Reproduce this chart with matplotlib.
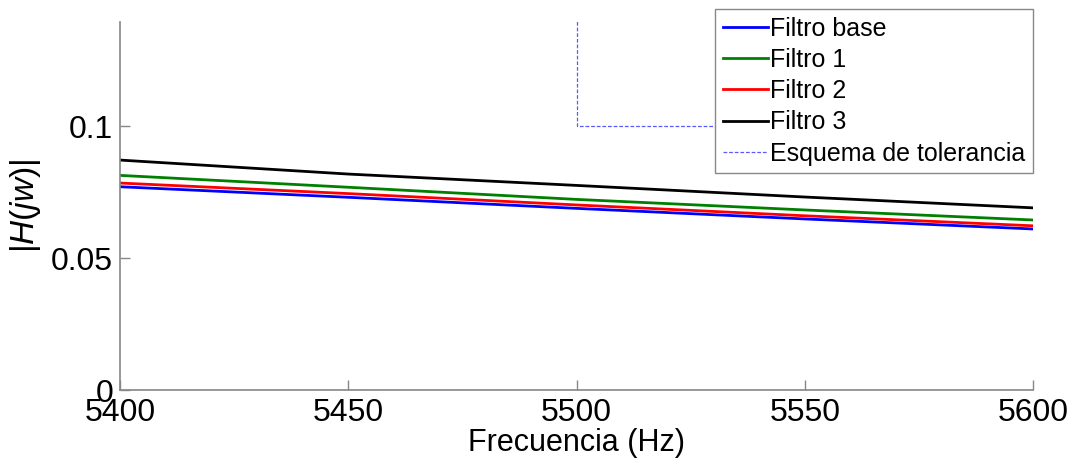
import matplotlib
matplotlib.use("Agg")
import matplotlib.pyplot as plt
import numpy as np

plt.rcParams['font.family'] = ['Liberation Sans', 'DejaVu Sans']
plt.rcParams['mathtext.fontset'] = 'custom'
plt.rcParams['mathtext.it'] = 'Liberation Sans:italic'
plt.rcParams['mathtext.rm'] = 'Liberation Sans'

freq = [5400, 5450, 5500, 5550, 5600]
filtro_base = [0.0770, 0.0730, 0.0688, 0.0648, 0.0610]
filtro_1 = [0.0813, 0.0768, 0.0722, 0.0682, 0.0644]
filtro_2 = [0.0784, 0.0744, 0.0701, 0.0660, 0.0622]
filtro_3 = [0.0871, 0.0818, 0.0775, 0.0731, 0.0690]

tol_x = [5500, 5500, 5700, np.nan, 5300, 5700]
tol_y = [0.5, 0.1, 0.1, np.nan, 0.0, 0.0]

xticks = [5400, 5450, 5500, 5550, 5600]
yticks = [0, 0.05, 0.1]
ytick_labels = ['0', '0.05', '0.1']

fig = plt.figure(figsize=(10.75, 4.66), dpi=100)
ax = fig.add_axes([120/1075, 76/466, 913/1075, 368/466])

ax.plot(freq, filtro_base, color='#0000ff', lw=2, label='Filtro base')
ax.plot(freq, filtro_1, color='#008000', lw=2, label='Filtro 1')
ax.plot(freq, filtro_2, color='#ff0000', lw=2, label='Filtro 2')
ax.plot(freq, filtro_3, color='#000000', lw=2, label='Filtro 3')
ax.plot(tol_x, tol_y, color='#5a5aff', lw=0.9, ls=(0, (3, 1.5)), label='Esquema de tolerancia')

ax.set_xlim(5400, 5600)
ax.set_ylim(0, 0.1394)
ax.set_xticks(xticks)
ax.set_yticks(yticks)
ax.set_yticklabels(ytick_labels)

for s in ['top', 'right']:
    ax.spines[s].set_visible(False)
for s in ['left', 'bottom']:
    ax.spines[s].set_color('#888888')
    ax.spines[s].set_linewidth(1.2)
ax.tick_params(direction='in', length=7, width=1, colors='#888888',
               labelcolor='black', labelsize=23)
ax.tick_params(axis='y', pad=5)
ax.tick_params(axis='x', pad=6)

ax.set_xlabel('Frecuencia (Hz)', fontsize=22)
ax.xaxis.set_label_coords(0.5, -0.102)
ax.set_ylabel(r'|$\mathit{H(jw)}$|', fontsize=24)
ax.yaxis.set_label_coords(-0.084, 0.5)

leg = ax.legend(loc='upper right', bbox_to_anchor=(1033/1075, 457/466),
                bbox_transform=fig.transFigure, fontsize=18,
                frameon=True, fancybox=False, edgecolor='#888888',
                framealpha=1.0,
                handlelength=1.8, handletextpad=0.1, labelspacing=0.29,
                borderpad=0.3, borderaxespad=0)
leg.get_frame().set_linewidth(1.0)

fig.savefig('out.png', dpi=100)
